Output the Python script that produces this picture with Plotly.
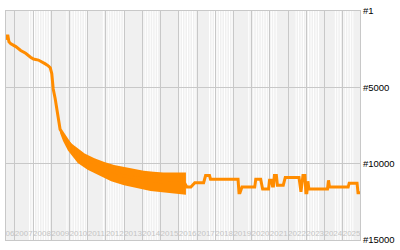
import plotly.graph_objects as go
import pandas as pd

# ---- data ----
rank_dates = [
    "2006-07-07", "2006-07-26", "2006-08-15", "2006-09-04", "2006-10-13",
    "2007-01-20", "2007-04-28", "2007-08-05", "2007-11-11", "2008-01-10",
    "2008-04-17", "2008-07-05", "2008-09-02", "2008-11-01", "2008-12-11",
    "2009-01-10", "2009-02-08", "2009-03-19", "2009-04-27", "2009-05-27",
    "2009-06-26", "2010-06-15", "2012-12-29", "2015-02-25", "2016-05-04",
    "2016-06-13", "2016-08-31", "2016-11-18", "2017-05-14", "2017-06-22",
    "2017-09-09", "2017-09-29", "2019-04-04", "2019-04-23", "2019-05-13",
    "2019-06-22", "2020-03-04", "2020-03-24", "2020-07-01", "2020-08-09",
    "2020-12-06", "2020-12-26", "2021-02-04", "2021-02-23", "2021-03-14",
    "2021-04-03", "2021-05-12", "2021-06-01", "2021-09-27", "2021-11-06",
    "2022-08-09", "2022-09-17", "2022-10-27", "2022-12-05", "2022-12-25",
    "2023-01-14", "2023-02-03", "2023-02-22", "2024-03-02", "2024-03-22",
    "2024-04-11", "2025-04-21", "2025-05-11", "2025-10-16", "2025-11-04",
    "2025-12-14",
]
rank_values = [
    1891, 1639, 1639, 2017, 2143,
    2332, 2584, 2773, 3025, 3151,
    3214, 3340, 3466, 3592, 3718,
    4096, 5105, 5735, 6491, 7058,
    7751, 9485, 10808, 11218, 11312,
    11533, 11533, 11249, 11249, 10776,
    10776, 11029, 11029, 11911, 11911,
    11533, 11533, 11029, 11029, 11659,
    11659, 11092, 11092, 11470, 11470,
    10776, 10776, 11407, 11407, 10902,
    10902, 11848, 10776, 10776, 11911,
    11911, 11155, 11659, 11659, 11092,
    11533, 11533, 11281, 11281, 11911,
    11911,
]

# envelope of the rapidly oscillating period (best / worst rank)
band_best_dates = [
    "2009-05-27", "2009-06-26", "2009-08-24", "2009-11-11", "2010-02-17",
    "2010-06-15", "2010-10-31", "2011-05-16", "2011-11-30", "2012-06-14",
    "2012-12-29", "2013-07-14", "2014-01-27", "2014-08-12", "2015-02-25",
    "2015-11-08", "2016-05-24",
]
band_best = [
    7058, 7562, 8004, 8382, 8697,
    9012, 9327, 9642, 9894, 10083,
    10209, 10335, 10461, 10524, 10587,
    10587, 10587,
]
band_worst_dates = [
    "2009-06-26", "2009-08-24", "2009-11-30", "2010-03-09", "2010-06-15",
    "2010-12-30", "2011-07-15", "2012-04-16", "2012-12-29", "2013-09-11",
    "2014-06-14", "2015-02-25", "2015-11-08", "2016-05-24",
]
band_worst = [
    8004, 8508, 9138, 9579, 9957,
    10398, 10713, 11155, 11407, 11596,
    11785, 11848, 11974, 12037,
]

year_labels = [str(y) for y in range(2006, 2026)]
year_label_rank = 14620
rank_ticks = [1, 5000, 10000, 15000]
rank_tick_labels = ["#1", "#5000", "#10000", "#15000"]

# light background stripe periods
stripe_periods = [
    ("2007-10-22", "2008-12-08"), ("2009-11-10", "2010-12-30"),
    ("2011-11-10", "2012-12-29"), ("2014-01-08", "2014-12-08"),
    ("2016-01-26", "2017-01-15"), ("2017-09-09", "2018-12-27"),
    ("2019-11-06", "2021-06-21"), ("2022-06-11", "2023-09-05"),
    ("2024-08-07", "2025-09-05"),
]

x_start, x_end = rank_dates[0], rank_dates[-1]
ORANGE = "#ff8c00"
GRID = "#c8c8c8"

fig = go.Figure()

# year labels inside the plot, clipped to the plot area
fig.add_trace(go.Scatter(
    x=[f"{y}-01-01" for y in year_labels],
    y=[year_label_rank] * len(year_labels),
    text=year_labels, mode="text", textposition="middle right",
    textfont=dict(family="Liberation Sans", size=8, color="#c4c4c4"),
    cliponaxis=True, hoverinfo="skip", showlegend=False,
))

# band polygon
fig.add_trace(go.Scatter(
    x=band_best_dates + band_worst_dates[::-1],
    y=band_best + band_worst[::-1],
    fill="toself", fillcolor=ORANGE, mode="lines",
    line=dict(width=0, color=ORANGE), hoverinfo="skip", showlegend=False,
))
fig.add_trace(go.Scatter(
    x=rank_dates, y=rank_values, mode="lines",
    line=dict(color=ORANGE, width=3), showlegend=False,
))

shapes = []
for s, e in stripe_periods:
    for d in pd.date_range(s, e, freq="50D"):
        shapes.append(dict(type="line", xref="x", yref="paper",
                           x0=d, x1=d, y0=0, y1=1, layer="below",
                           line=dict(color="white", width=1)))

fig.update_layout(
    width=400, height=250,
    margin=dict(l=5, r=35, t=5, b=7),
    paper_bgcolor="white", plot_bgcolor="#f0f0f0",
    shapes=shapes,
    font=dict(family="Liberation Sans", size=9.5, color="black"),
    showlegend=False,
)
fig.update_xaxes(
    type="date", range=[x_start, x_end],
    tick0="2007-01-01", dtick="M12", showticklabels=False, ticks="",
    showgrid=True, gridcolor=GRID, gridwidth=1,
    showline=True, linecolor=GRID, linewidth=1, mirror=True, zeroline=False,
)
fig.update_yaxes(
    range=[15000, 1], side="right",
    tickmode="array", tickvals=rank_ticks, ticktext=rank_tick_labels,
    ticks="", showgrid=True, gridcolor=GRID, gridwidth=1,
    showline=True, linecolor=GRID, linewidth=1, mirror=True, zeroline=False,
)

fig.write_html("out.html")
